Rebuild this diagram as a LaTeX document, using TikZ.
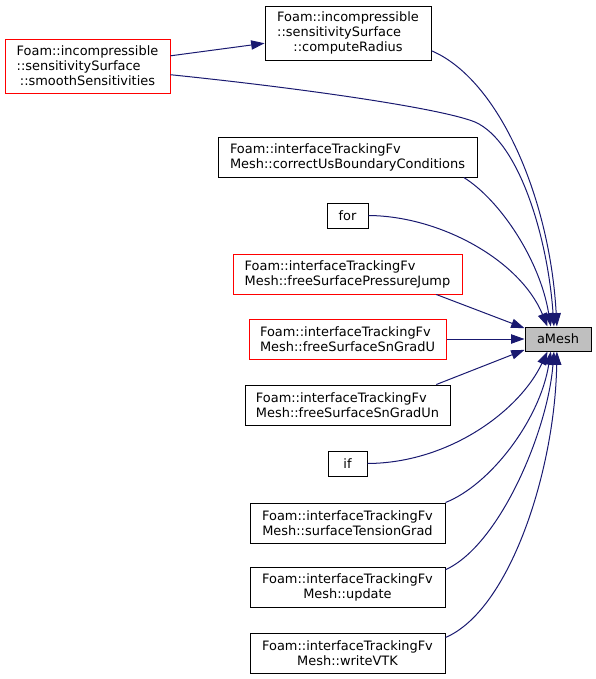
\documentclass[tikz,border=0pt]{standalone}
\usepackage{fontspec}
\setmainfont{DejaVu Sans}
\usepackage{calc}
\usetikzlibrary{arrows.meta}
\definecolor{bleunuit}{RGB}{25,25,112}
\definecolor{grisfond}{RGB}{191,191,191}
% ligne alignée à gauche sous la ligne la plus longue
\newcommand{\agauche}[2]{\makebox[\widthof{#1}][l]{#2}}
\begin{document}
\begin{tikzpicture}[
    x=0.75pt, y=-0.75pt, % un pixel de l'image
    >={Triangle[length=10pt,width=7pt]},
    % Réglages des boîtes
    boite/.style={draw=black, line width=0.75pt, inner sep=0pt,
        font=\fontsize{9.7}{11.25}\selectfont},
    rouge/.style={boite, draw=red},
    haute/.style={minimum height=30pt},
    appel/.style={draw=bleunuit, line width=0.75pt, ->} % flèche vers l'appelé
]
\useasboundingbox (0,0) rectangle (596,679);
% Boîtes de gauche
\node[rouge, minimum width=123.75pt, minimum height=40.5pt, align=center] (smooth) at (87.5,66)
    {Foam::incompressible\\\agauche{Foam::incompressible}{::sensitivitySurface}\\::smoothSensitivities};
\node[boite, minimum width=124.5pt, minimum height=40.5pt, align=center] (radius) at (348,33)
    {Foam::incompressible\\\agauche{Foam::incompressible}{::sensitivitySurface}\\::computeRadius};
\node[boite, haute, minimum width=194.25pt, align=left] (correct) at (347.5,157)
    {Foam::interfaceTrackingFv\\Mesh::correctUsBoundaryConditions};
\node[boite, minimum width=30.75pt, minimum height=18.75pt] (for) at (347.5,215.5) {for};
\node[rouge, haute, minimum width=171.75pt, align=left] (jump) at (347.5,274)
    {Foam::interfaceTrackingFv\\Mesh::freeSurfacePressureJump};
\node[rouge, haute, minimum width=147.75pt, align=left] (gradU) at (347.5,339)
    {Foam::interfaceTrackingFv\\Mesh::freeSurfaceSnGradU};
\node[boite, haute, minimum width=153.75pt, align=left] (gradUn) at (347.5,405)
    {Foam::interfaceTrackingFv\\Mesh::freeSurfaceSnGradUn};
\node[boite, minimum width=29.25pt, minimum height=18.75pt] (if) at (347.5,463.5) {if};
\node[boite, haute, minimum width=146.25pt, align=center] (tension) at (347.5,523)
    {Foam::interfaceTrackingFv\\Mesh::surfaceTensionGrad};
\node[boite, haute, minimum width=146.25pt, align=center] (update) at (347.5,587)
    {Foam::interfaceTrackingFv\\Mesh::update};
\node[boite, haute, minimum width=146.25pt, align=center] (vtk) at (347.5,653)
    {Foam::interfaceTrackingFv\\Mesh::writeVTK};
% Cible
\node[boite, fill=grisfond, minimum width=49.5pt, minimum height=18pt] (amesh) at (558,339) {aMesh};
% Appels
\draw[appel] (smooth.7) -- (radius.187);
\draw[appel] (radius.-12) .. controls (500,80) and (550,200) .. (amesh.95);
\draw[appel] (smooth.-6) .. controls (300,88) and (440,108) .. (475,122)
    .. controls (520,142) and (548,240) .. (amesh.108);
\draw[appel] (correct.-10) .. controls (500,200) and (540,260) .. (amesh.120);
\draw[appel] (for.east) .. controls (440,216) and (520,260) .. (amesh.130);
\draw[appel] (jump.-13) -- (amesh.162);
\draw[appel] (gradU.east) -- (amesh.west);
\draw[appel] (gradUn.13) -- (amesh.-162);
\draw[appel] (if.east) .. controls (450,463) and (520,410) .. (amesh.-130);
\draw[appel] (tension.north east) .. controls (490,485) and (540,420) .. (amesh.-120);
\draw[appel] (update.10) .. controls (500,545) and (548,430) .. (amesh.-108);
\draw[appel] (vtk.9) .. controls (510,610) and (555,470) .. (amesh.-95);
\end{tikzpicture}
\end{document}
